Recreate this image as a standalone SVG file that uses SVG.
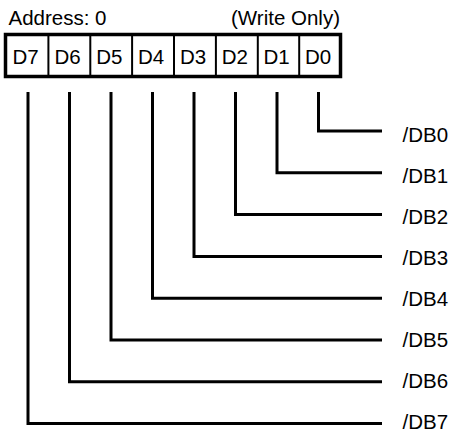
<svg xmlns="http://www.w3.org/2000/svg" width="449" height="435" viewBox="0 0 449 435">
<style>
text{font-family:"Liberation Sans",Arial,sans-serif;font-size:20.5px;fill:#000}
.c{text-anchor:middle}
.w{fill:none;stroke:#000;stroke-width:3}
.d{stroke:#000;stroke-width:2}
</style>
<rect width="449" height="435" fill="#fff"/>
<g id="header">
<text x="8.5" y="24.5">Address: 0</text>
<text x="340" y="24.5" style="text-anchor:end">(Write Only)</text>
</g>
<g id="register">
<rect x="5.5" y="34.5" width="335" height="42" fill="#fff" stroke="#000" stroke-width="3.5"/>
<line class="d" x1="48.4" y1="35" x2="48.4" y2="77"/>
<line class="d" x1="90.3" y1="35" x2="90.3" y2="77"/>
<line class="d" x1="132.1" y1="35" x2="132.1" y2="77"/>
<line class="d" x1="174" y1="35" x2="174" y2="77"/>
<line class="d" x1="215.9" y1="35" x2="215.9" y2="77"/>
<line class="d" x1="257.8" y1="35" x2="257.8" y2="77"/>
<line class="d" x1="299.2" y1="35" x2="299.2" y2="77"/>
<g id="cell-D7"><text class="c" x="25.5" y="64">D7</text></g>
<g id="cell-D6"><text class="c" x="67.5" y="64">D6</text></g>
<g id="cell-D5"><text class="c" x="109.3" y="64">D5</text></g>
<g id="cell-D4"><text class="c" x="151.1" y="64">D4</text></g>
<g id="cell-D3"><text class="c" x="193" y="64">D3</text></g>
<g id="cell-D2"><text class="c" x="234.8" y="64">D2</text></g>
<g id="cell-D1"><text class="c" x="276.5" y="64">D1</text></g>
<g id="cell-D0"><text class="c" x="318" y="64">D0</text></g>
</g>
<g id="connectors">
<polyline class="w" points="318.5,92 318.5,131 382,131"/>
<polyline class="w" points="277,92 277,172.8 382,172.8"/>
<polyline class="w" points="235.5,92 235.5,214.6 382,214.6"/>
<polyline class="w" points="194,92 194,256.4 382,256.4"/>
<polyline class="w" points="152.5,92 152.5,298.2 382,298.2"/>
<polyline class="w" points="111,92 111,340 382,340"/>
<polyline class="w" points="69.5,92 69.5,381.8 382,381.8"/>
<polyline class="w" points="28,92 28,423.6 382,423.6"/>
</g>
<g id="labels">
<g id="DB0"><text x="402.5" y="141.7">/DB0</text></g>
<g id="DB1"><text x="402.5" y="182.8">/DB1</text></g>
<g id="DB2"><text x="402.5" y="223.9">/DB2</text></g>
<g id="DB3"><text x="402.5" y="265">/DB3</text></g>
<g id="DB4"><text x="402.5" y="306.1">/DB4</text></g>
<g id="DB5"><text x="402.5" y="347.2">/DB5</text></g>
<g id="DB6"><text x="402.5" y="388.3">/DB6</text></g>
<g id="DB7"><text x="402.5" y="429.4">/DB7</text></g>
</g>
</svg>
